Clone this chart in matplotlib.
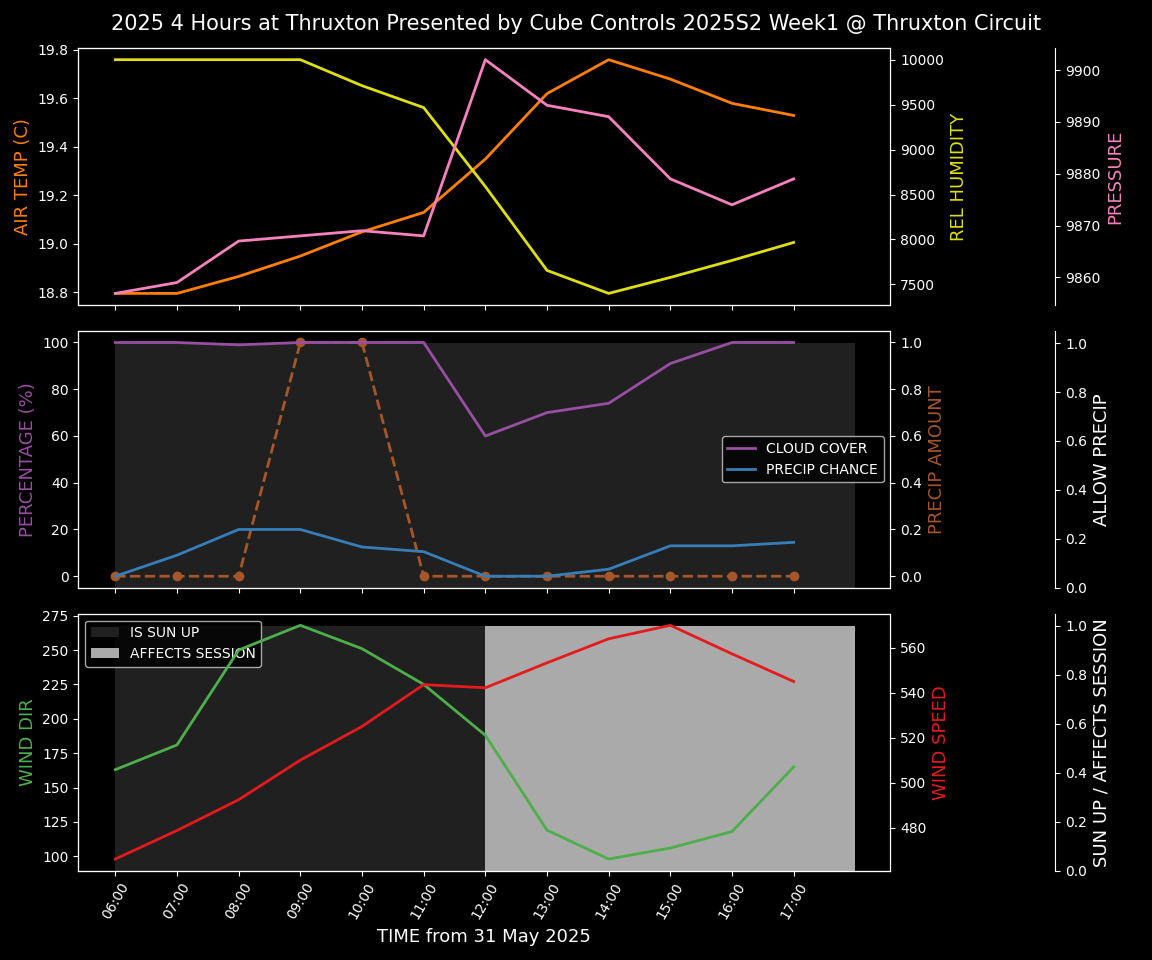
import matplotlib
matplotlib.use("Agg")
import matplotlib.pyplot as plt
import numpy as np

hours = ["06:00", "07:00", "08:00", "09:00", "10:00", "11:00",
         "12:00", "13:00", "14:00", "15:00", "16:00", "17:00"]
air_temp = [18.796, 18.796, 18.866, 18.95, 19.05, 19.13, 19.35, 19.62, 19.76, 19.68, 19.58, 19.53]
rel_humidity = [10000, 10000, 10000, 10000, 9711, 9467, 8589, 7656, 7400, 7578, 7767, 7967]
pressure = [9856.9, 9859, 9867, 9868, 9869, 9868, 9902, 9893.2, 9891, 9879, 9874, 9879]
cloud_cover = [100, 100, 99, 100, 100, 100, 60, 70, 74, 91, 100, 100]
precip_chance = [0, 9, 20, 20, 12.5, 10.5, 0, 0, 3, 13, 13, 14.5]
precip_amount = [0, 0, 0, 1, 1, 0, 0, 0, 0, 0, 0, 0]
allow_precip = [1] * 13
wind_dir = [163, 181, 250, 268, 251, 225, 188, 119, 98, 106, 118, 165]
wind_speed = [466, 478.7, 492.4, 510, 525, 543.6, 542.2, 553.3, 564, 570, 557.3, 545]
sun_up = [1] * 13
affects_session = [0, 0, 0, 0, 0, 0, 1, 1, 1, 1, 1, 1, 1]

plt.style.use("dark_background")
x = np.arange(len(hours))
xf = np.arange(len(hours) + 1)

fig, axes = plt.subplots(3, 1, figsize=(11.52, 9.6), dpi=100, sharex=True)
fig.subplots_adjust(left=0.068, right=0.773, top=0.95, bottom=0.093, hspace=0.1)
fig.suptitle("2025 4 Hours at Thruxton Presented by Cube Controls 2025S2 Week1 @ Thruxton Circuit",
             fontsize=15, y=0.985)
lw = 2
fs = 13
off = 1.203

# top panel
ax = axes[0]
ax.plot(x, air_temp, color="#ff7f00", lw=lw)
ax.set_ylabel("AIR TEMP (C)", color="#ff7f00", fontsize=fs)
a2 = ax.twinx()
a2.plot(x, rel_humidity, color="#dede10", lw=lw)
a2.set_ylabel("REL HUMIDITY", color="#dede10", fontsize=fs)
a3 = ax.twinx()
a3.spines["right"].set_position(("axes", off))
a3.plot(x, pressure, color="#f781bf", lw=lw)
a3.set_ylabel("PRESSURE", color="#f781bf", fontsize=fs)

# middle panel
ax = axes[1]
a3 = ax.twinx()
a3.spines["right"].set_position(("axes", off))
a3.fill_between(xf, allow_precip, step="post", color="#202020", lw=0)
a3.set_ylim(0, 1.05)
a3.set_ylabel("ALLOW PRECIP", fontsize=fs)
a2 = ax.twinx()
a2.plot(x, precip_amount, color="#a65628", lw=lw, ls="--", marker="o")
a2.set_ylim(-0.05, 1.05)
a2.set_ylabel("PRECIP AMOUNT", color="#a65628", fontsize=fs)
ax.set_zorder(a2.get_zorder() + 1)
ax.patch.set_visible(False)
ax.set_zorder(3)
ax.plot(x, cloud_cover, color="#984ea3", lw=lw, label="CLOUD COVER")
ax.plot(x, precip_chance, color="#377eb8", lw=lw, label="PRECIP CHANCE")
ax.set_ylim(-5, 105)
ax.set_ylabel("PERCENTAGE (%)", color="#984ea3", fontsize=fs)
ax.legend(loc="center right")
a3.set_zorder(1)
a2.set_zorder(2)

# bottom panel
ax = axes[2]
a3 = ax.twinx()
a3.spines["right"].set_position(("axes", off))
a3.fill_between(xf, sun_up, step="post", color="#202020", lw=0, label="IS SUN UP")
a3.fill_between(xf, affects_session, step="post", color="#aaaaaa", lw=0, label="AFFECTS SESSION")
a3.set_ylim(0, 1.05)
a3.set_ylabel("SUN UP / AFFECTS SESSION", fontsize=fs)
a2 = ax.twinx()
a2.plot(x, wind_speed, color="#e41a1c", lw=lw)
a2.set_ylabel("WIND SPEED", color="#e41a1c", fontsize=fs)
ax.plot(x, wind_dir, color="#4daf4a", lw=lw)
ax.set_ylabel("WIND DIR", color="#4daf4a", fontsize=fs)
a3.legend(loc="upper left")
a3.set_zorder(1)
a2.set_zorder(3)
ax.set_zorder(2)
ax.patch.set_visible(False)
a2.patch.set_visible(False)

axes[2].set_xlim(-0.6, 12.57)
axes[2].set_xticks(x)
axes[2].set_xticklabels(hours, rotation=60)
axes[2].set_xlabel("TIME from 31 May 2025", fontsize=fs)

fig.savefig("out.png", dpi=100, facecolor="black")
